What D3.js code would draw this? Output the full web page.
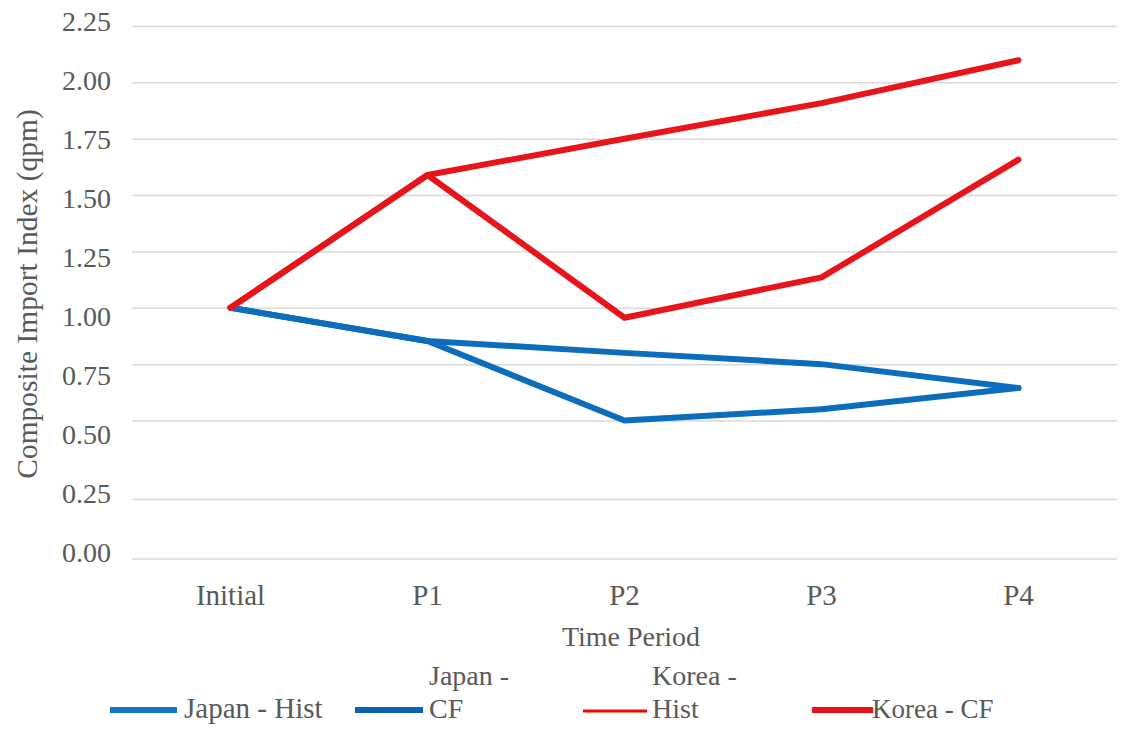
<!DOCTYPE html>
<html>
<head>
<meta charset="utf-8">
<script src="https://cdn.jsdelivr.net/npm/d3@7"></script>
<style>
  body { margin: 0; background: #fff; }
  text { font-family: "Liberation Serif", "Times New Roman", serif; fill: #595959; }
</style>
</head>
<body>
<div id="vis"></div>
<script>
// Data
const PERIODS = ["Initial", "P1", "P2", "P3", "P4"];
const JAPAN_HIST = [1.00, 0.853, 0.80, 0.75, 0.644];
const JAPAN_CF = [1.00, 0.853, 0.50, 0.55, 0.644];
const KOREA_HIST = [1.00, 1.589, 1.75, 1.908, 2.098];
const KOREA_CF = [1.00, 1.589, 0.956, 1.135, 1.657];
const Y_TICKS = [0, 0.25, 0.5, 0.75, 1.0, 1.25, 1.5, 1.75, 2.0, 2.25];

const FRAME_WIDTH = 1122;
const FRAME_HEIGHT = 732;
const BLUE = "#0b6dbb";
const RED = "#e8141b";

const svg = d3.select("#vis")
    .append("svg")
    .attr("width", FRAME_WIDTH)
    .attr("height", FRAME_HEIGHT);

// x scale: band centers line up with the points
const X_SCALE = d3.scaleBand()
    .domain(PERIODS)
    .range([132, 1117]);

// gridline scale (the reference spacing is uneven near the bottom)
const Y_SCALE = d3.scaleLinear()
    .domain([0, 0.25, 0.5, 2.25])
    .range([558.5, 499, 420.5, 26]);

// tick label scale
const Y_LABEL = d3.scaleLinear()
    .domain([0, 2.25])
    .range([553, 22]);

// gridlines
svg.append("g")
    .attr("transform", "translate(132,0)")
    .call(d3.axisLeft(Y_SCALE).tickValues(Y_TICKS).tickSize(-985).tickFormat(""))
    .call(g => g.select(".domain").remove())
    .call(g => g.selectAll("line").attr("stroke", "#d9d9d9").attr("stroke-width", 1.5));

// y tick labels
svg.append("g")
    .attr("transform", "translate(114,0)")
    .call(d3.axisLeft(Y_LABEL).tickValues(Y_TICKS).tickSize(0).tickFormat(d3.format(".2f")))
    .call(g => g.select(".domain").remove())
    .call(g => g.selectAll("text")
        .attr("font-size", "28px")
        .attr("font-family", "Liberation Serif")
        .attr("fill", "#595959"));

// x tick labels
svg.append("g")
    .attr("transform", "translate(0,581)")
    .call(d3.axisBottom(X_SCALE).tickSize(0))
    .call(g => g.select(".domain").remove())
    .call(g => g.selectAll("text")
        .attr("font-size", "29px")
        .attr("font-family", "Liberation Serif")
        .attr("fill", "#595959"));

// axis titles
svg.append("text")
    .attr("x", 631)
    .attr("y", 646)
    .attr("text-anchor", "middle")
    .attr("font-size", "28px")
    .text("Time Period");

svg.append("text")
    .attr("transform", "translate(37,294) rotate(-90)")
    .attr("text-anchor", "middle")
    .attr("font-size", "29.5px")
    .text("Composite Import Index (qpm)");

// lines
const line = d3.line()
    .x((d, i) => X_SCALE(PERIODS[i]) + X_SCALE.bandwidth() / 2)
    .y(d => Y_SCALE(d));

const SERIES = [
    {name: "Japan - Hist", values: JAPAN_HIST, color: BLUE},
    {name: "Japan - CF", values: JAPAN_CF, color: BLUE},
    {name: "Korea - Hist", values: KOREA_HIST, color: RED},
    {name: "Korea - CF", values: KOREA_CF, color: RED}
];

svg.selectAll(".series")
    .data(SERIES)
    .enter()
    .append("path")
    .attr("class", "series")
    .attr("d", d => line(d.values))
    .attr("fill", "none")
    .attr("stroke", d => d.color)
    .attr("stroke-width", 6)
    .attr("stroke-linejoin", "round")
    .attr("stroke-linecap", "round");

// legend
const legend = svg.append("g");

legend.append("line").attr("x1", 110).attr("x2", 177).attr("y1", 710).attr("y2", 710)
    .attr("stroke", "#1674c4").attr("stroke-width", 6);
legend.append("text").attr("x", 184).attr("y", 718).attr("font-size", "29px").text("Japan - Hist");

legend.append("line").attr("x1", 355).attr("x2", 423).attr("y1", 710).attr("y2", 710)
    .attr("stroke", "#0a63ad").attr("stroke-width", 6);
legend.append("text").attr("x", 429).attr("y", 685).attr("font-size", "28px").text("Japan -");
legend.append("text").attr("x", 429).attr("y", 718).attr("font-size", "28px").text("CF");

legend.append("line").attr("x1", 583).attr("x2", 647).attr("y1", 711).attr("y2", 711)
    .attr("stroke", "#ff0000").attr("stroke-width", 3);
legend.append("text").attr("x", 652).attr("y", 685).attr("font-size", "28px").text("Korea -");
legend.append("text").attr("x", 652).attr("y", 718).attr("font-size", "28px").text("Hist");

legend.append("line").attr("x1", 812).attr("x2", 873).attr("y1", 710).attr("y2", 710)
    .attr("stroke", RED).attr("stroke-width", 6);
legend.append("text").attr("x", 872).attr("y", 718).attr("font-size", "27px").text("Korea - CF");
</script>
</body>
</html>
